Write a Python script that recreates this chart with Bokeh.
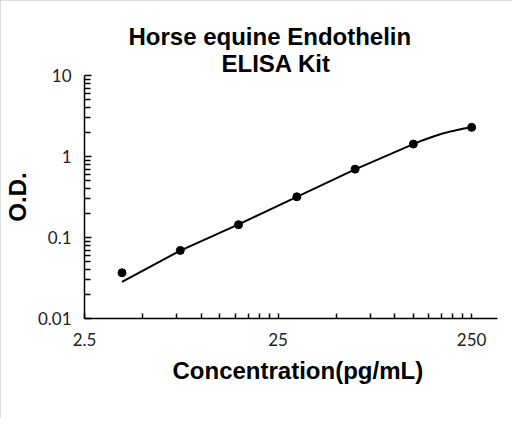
from bokeh.plotting import figure
from bokeh.models import Range1d, FixedTicker, CustomJSTickFormatter, Title
from bokeh.embed import file_html
from bokeh.resources import INLINE

# Standard points (concentration pg/mL, O.D.)
conc = [3.90625, 7.8125, 15.625, 31.25, 62.5, 125, 250]
od = [0.0367, 0.0692, 0.144, 0.318, 0.698, 1.425, 2.29]

# Fitted curve
fit_conc = [3.90625, 7.8125, 15.625, 31.25, 62.5, 125, 140, 160, 177, 200, 225, 250]
fit_od = [0.0283, 0.0690, 0.145, 0.318, 0.695, 1.42, 1.59, 1.78, 1.92, 2.07, 2.20, 2.29]

x_major = [2.5, 25, 250]
x_minor = [5, 7.5, 10, 12.5, 15, 17.5, 20, 22.5, 50, 75, 100, 125, 150, 175, 200, 225]
y_major = [0.01, 0.1, 1, 10]
y_minor = [0.02, 0.03, 0.04, 0.05, 0.06, 0.07, 0.08, 0.09,
           0.2, 0.3, 0.4, 0.5, 0.6, 0.7, 0.8, 0.9,
           2, 3, 4, 5, 6, 7, 8, 9]

title1 = "Horse equine Endothelin"
title2 = "ELISA Kit"
xlabel = "Concentration(pg/mL)"
ylabel = "O.D."

p = figure(width=512, height=418, x_axis_type="log", y_axis_type="log",
           x_range=Range1d(2.5, 340), y_range=Range1d(0.01, 10),
           output_backend="svg", toolbar_location=None, title=None,
           min_border_left=82, min_border_right=15, min_border_top=75, min_border_bottom=100)
p.styles = {"outline": "1px solid #d4d4d4", "outline-offset": "-1px"}
p.outline_line_color = None
p.grid.visible = False
p.background_fill_color = "white"
p.border_fill_color = "white"

fmt = CustomJSTickFormatter(code="return tick.toString();")
p.xaxis.ticker = FixedTicker(ticks=x_major, minor_ticks=x_minor)
p.yaxis.ticker = FixedTicker(ticks=y_major, minor_ticks=y_minor)
for ax in (p.xaxis, p.yaxis):
    ax.formatter = fmt
    ax.axis_line_color = "black"
    ax.axis_line_width = 1.5
    ax.major_tick_line_color = "black"
    ax.minor_tick_line_color = "black"
    ax.major_tick_line_width = 1.5
    ax.minor_tick_line_width = 1.5
    ax.major_tick_out = 0
    ax.minor_tick_out = 0
    ax.major_label_text_font = "Lato"
    ax.major_label_text_font_size = "17px"
    ax.major_label_text_color = "#222222"
    ax.axis_label_text_font = "Liberation Sans"
    ax.axis_label_text_font_style = "bold"
    ax.axis_label_text_font_size = "24px"
    ax.axis_label_text_color = "black"

p.xaxis.major_tick_in = 5
p.xaxis.minor_tick_in = 5
p.yaxis.major_tick_in = 7
p.yaxis.minor_tick_in = 6
p.xaxis.major_label_standoff = 14
p.yaxis.major_label_standoff = 13
p.yaxis.axis_label = ylabel
p.yaxis.axis_label_standoff = 4

p.line(fit_conc, fit_od, line_color="black", line_width=2)
p.scatter(conc, od, size=8, fill_color="black", line_color="black")

font_kw = dict(text_font="Liberation Sans", text_font_style="bold",
               text_font_size="24px", text_color="black")
t2 = Title(text=title2, align="left", offset=137, standoff=-3, **font_kw)
t1 = Title(text=title1, align="left", offset=44, standoff=0, **font_kw)
p.add_layout(t2, "above")
p.add_layout(t1, "above")

xl = Title(text=xlabel, align="left", offset=88, standoff=13, **font_kw)
p.add_layout(xl, "below")

open("out.html", "w").write(file_html(p, INLINE))
